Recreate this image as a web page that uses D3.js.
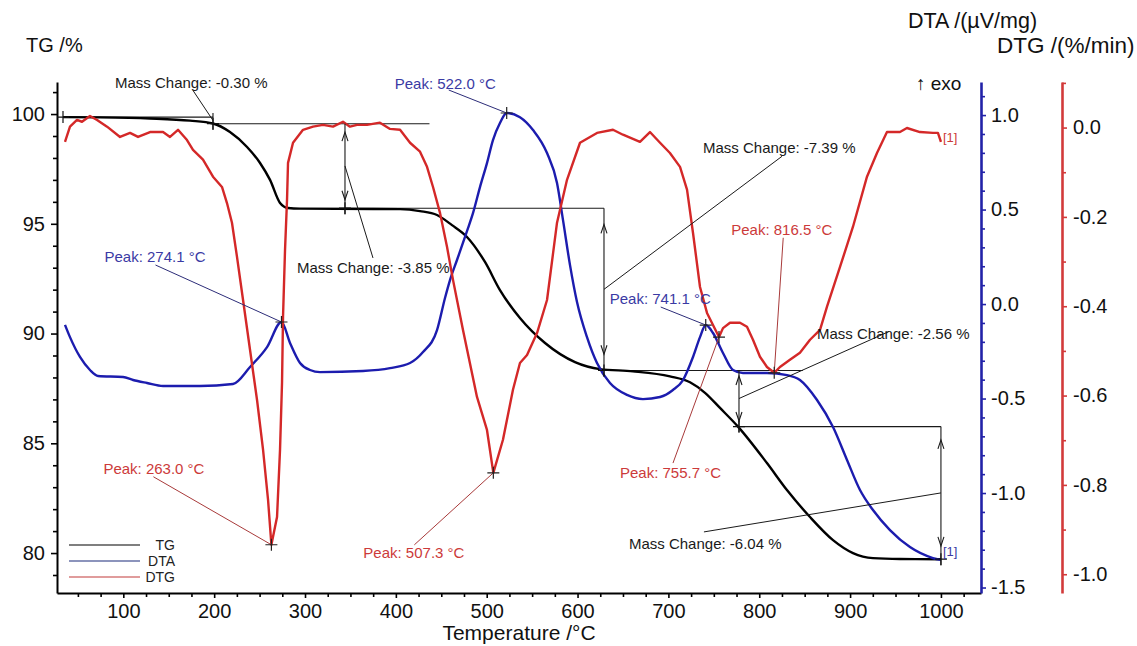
<!DOCTYPE html>
<html>
<head>
<meta charset="utf-8">
<script src="https://cdn.jsdelivr.net/npm/d3@7"></script>
<style>
  body { margin: 0; background: #fff; }
  svg text { font-family: "Liberation Sans", Arial, sans-serif; }
</style>
</head>
<body>
<svg id="chart" width="1137" height="646"></svg>
<script>
// ---- Thermal analysis readings ----
const tgTemp = [33.6, 74.4, 129.4, 173.4, 198.7, 217.4, 236.2, 250.5, 261.5, 272.5, 281.3, 294.5, 404.6, 426.6, 445.3, 461.8, 478.3, 498.1, 514.6, 536.6, 564.2, 597.2, 624.7, 661.0, 701.7, 723.8, 740.3, 756.8, 776.6, 808.5, 830.5, 855.9, 881.2, 903.2, 925.2, 954.9, 1000];
const tgMass = [99.86, 99.85, 99.80, 99.70, 99.57, 99.18, 98.50, 97.77, 97.00, 95.95, 95.72, 95.69, 95.67, 95.58, 95.40, 94.94, 94.40, 93.26, 91.98, 90.71, 89.57, 88.70, 88.38, 88.28, 88.05, 87.78, 87.30, 86.61, 85.76, 84.10, 82.87, 81.64, 80.59, 80.00, 79.77, 79.73, 79.72];

const dtaTemp = [35.8, 41.3, 52.3, 63.3, 72.2, 99.7, 110.7, 126.1, 143.7, 184.4, 220.7, 239.5, 258.2, 274.1, 283.5, 294.5, 305.5, 316.5, 363.8, 393.6, 415.6, 429.9, 445.3, 454.1, 459.6, 467.3, 478.3, 484.9, 492.6, 500.3, 506.9, 514.6, 522.0, 536.6, 551.0, 566.4, 577.4, 584.0, 591.7, 599.4, 610.4, 621.4, 635.7, 654.4, 672.0, 690.8, 705.0, 716.1, 727.1, 734.8, 741.1, 749.1, 760.1, 771.1, 782.1, 808.5, 830.5, 844.8, 863.6, 881.2, 896.6, 910.9, 925.2, 943.9, 965.9, 991.2, 1000];
const dtaSignal = [-0.110, -0.175, -0.280, -0.349, -0.381, -0.386, -0.402, -0.418, -0.434, -0.434, -0.423, -0.333, -0.228, -0.095, -0.206, -0.312, -0.349, -0.360, -0.354, -0.339, -0.312, -0.254, -0.138, 0.032, 0.127, 0.233, 0.386, 0.481, 0.619, 0.746, 0.868, 0.958, 1.011, 0.989, 0.921, 0.799, 0.640, 0.444, 0.206, 0.011, -0.175, -0.312, -0.418, -0.481, -0.503, -0.492, -0.455, -0.402, -0.280, -0.175, -0.111, -0.153, -0.259, -0.349, -0.365, -0.365, -0.376, -0.402, -0.508, -0.651, -0.825, -0.984, -1.090, -1.196, -1.286, -1.344, -1.354];

const dtgTemp = [35.8, 41.3, 49.0, 54.5, 63.3, 71.1, 82.1, 96.4, 107.4, 116.2, 129.4, 143.7, 151.4, 160.2, 170.1, 176.7, 187.7, 198.7, 208.6, 214.1, 219.6, 225.1, 231.8, 239.5, 247.2, 253.8, 259.3, 263.0, 269.2, 272.5, 274.7, 275.8, 278.0, 280.2, 281.3, 286.8, 297.8, 308.8, 319.8, 330.8, 341.8, 349.5, 357.2, 368.2, 382.5, 393.6, 404.6, 415.6, 426.6, 434.3, 440.9, 448.6, 456.3, 462.9, 473.9, 489.3, 500.3, 507.3, 517.9, 528.9, 536.6, 544.4, 555.4, 566.4, 577.4, 588.4, 602.7, 621.4, 639.0, 650.0, 668.7, 679.7, 690.8, 701.7, 712.8, 720.5, 727.1, 734.8, 742.5, 755.7, 760.1, 767.8, 778.8, 786.5, 793.1, 800.8, 808.5, 816.5, 822.8, 833.8, 844.8, 855.9, 866.9, 874.6, 888.9, 903.2, 918.6, 929.6, 940.6, 954.9, 962.6, 976.9, 991.2, 996.7, 1000];
const dtgRate = [-0.032, 0.002, 0.017, 0.013, 0.026, 0.017, 0.002, -0.021, -0.012, -0.021, -0.010, -0.010, -0.021, -0.005, -0.028, -0.050, -0.072, -0.110, -0.133, -0.169, -0.213, -0.289, -0.386, -0.498, -0.610, -0.721, -0.833, -0.934, -0.872, -0.721, -0.571, -0.424, -0.274, -0.162, -0.079, -0.034, -0.005, 0.002, 0.006, 0.002, 0.013, 0.002, 0.006, 0.006, 0.011, -0.003, -0.005, -0.034, -0.054, -0.088, -0.133, -0.191, -0.267, -0.341, -0.453, -0.603, -0.677, -0.773, -0.699, -0.587, -0.527, -0.509, -0.460, -0.386, -0.213, -0.117, -0.034, -0.012, -0.005, -0.016, -0.032, -0.010, -0.034, -0.057, -0.088, -0.139, -0.236, -0.357, -0.415, -0.469, -0.449, -0.437, -0.437, -0.446, -0.475, -0.513, -0.536, -0.549, -0.536, -0.520, -0.504, -0.475, -0.453, -0.401, -0.312, -0.222, -0.110, -0.057, -0.010, -0.010, -0.001, -0.010, -0.012, -0.012, -0.032];

// Evaluated peaks and mass-change steps
const dtaPeaks = [274.1, 522.0, 741.1];
const dtgPeaks = [263.0, 507.3, 755.7, 816.5];
const massChanges = [-0.30, -3.85, -7.39, -2.56, -6.04];
const stepTemps = [198.7, 344.0, 629.1, 777.7, 1000];

// Axis ticks
const tempTicks = [100, 200, 300, 400, 500, 600, 700, 800, 900, 1000];
const tgTicks = [80, 85, 90, 95, 100];
const dtaTicks = [-1.5, -1.0, -0.5, 0.0, 0.5, 1.0];
const dtgTicks = [-1.0, -0.8, -0.6, -0.4, -0.2, 0.0];

// ---- Layout ----
const C = {
  tg: "#000000",
  dta: "#1c1cae",
  dtg: "#d42828",
  dtaAxis: "#2222a8",
  dtgAxis: "#d23a3a",
  dtaText: "#3a3aa4",
  dtgText: "#cc3a3a",
  dtaLead: "#2c2c78",
  dtgLead: "#a83a3a",
  note: "#1a1a1a"
};
const plot = { left: 57, right: 981, top: 82, bottom: 593 };

const svg = d3.select("#chart");
svg.append("rect").attr("width", 1137).attr("height", 646).attr("fill", "#fff");

const x = d3.scaleLinear().domain([27.0, 1044.1]).range([plot.left, plot.right]);
const yTG = d3.scaleLinear().domain([78.18, 101.46]).range([plot.bottom, plot.top]);
const yDTA = d3.scaleLinear().domain([-1.529, 1.175]).range([plot.bottom, plot.top]);
const yDTG = d3.scaleLinear().domain([-1.042, 0.102]).range([plot.bottom, plot.top]);

const fmt1 = d => (Math.round(d * 10) / 10).toFixed(1).replace("-0.0", "0.0");
const tickFont = 20;

function styleAxis(g, color, width) {
  g.attr("font-size", tickFont).attr("font-family", '"Liberation Sans", Arial, sans-serif');
  g.select(".domain").attr("stroke", color).attr("stroke-width", width);
  g.selectAll(".tick line").attr("stroke", color).attr("stroke-width", 1.6);
  g.selectAll(".tick text").attr("fill", "#111");
}

// Left TG axis
const gL = svg.append("g").attr("transform", `translate(${plot.left},0)`);
gL.call(d3.axisLeft(yTG).tickValues(tgTicks).tickSize(6).tickSizeOuter(0).tickPadding(6).tickFormat(d3.format("d")));
styleAxis(gL, "#000", 2);
const gLm = svg.append("g").attr("transform", `translate(${plot.left},0)`);
gLm.call(d3.axisLeft(yTG).tickValues(d3.range(79, 102).filter(v => v % 5 !== 0)).tickSize(4).tickSizeOuter(0).tickFormat(""));
gLm.select(".domain").remove();
gLm.selectAll(".tick line").attr("stroke", "#000").attr("stroke-width", 1.6);

// Bottom temperature axis
const gB = svg.append("g").attr("transform", `translate(0,${plot.bottom})`);
gB.call(d3.axisBottom(x).tickValues(tempTicks).tickSize(5).tickSizeOuter(0).tickPadding(6).tickFormat(d3.format("d")));
styleAxis(gB, "#000", 2);
const gBm = svg.append("g").attr("transform", `translate(0,${plot.bottom})`);
gBm.call(d3.axisBottom(x).tickValues(d3.range(50, 1026, 25).filter(v => v % 100 !== 0)).tickSize(4).tickSizeOuter(0).tickFormat(""));
gBm.select(".domain").remove();
gBm.selectAll(".tick line").attr("stroke", "#000").attr("stroke-width", 1.6);

// Right DTA axis
const gR1 = svg.append("g").attr("transform", `translate(${plot.right},0)`);
gR1.call(d3.axisRight(yDTA).tickValues(dtaTicks).tickSize(5).tickSizeOuter(0).tickPadding(5).tickFormat(fmt1));
styleAxis(gR1, C.dtaAxis, 2.6);
const gR1m = svg.append("g").attr("transform", `translate(${plot.right},0)`);
gR1m.call(d3.axisRight(yDTA).tickValues(d3.range(-14, 12).filter(v => v % 5 !== 0).map(v => v / 10)).tickSize(4).tickSizeOuter(0).tickFormat(""));
gR1m.select(".domain").remove();
gR1m.selectAll(".tick line").attr("stroke", C.dtaAxis).attr("stroke-width", 1.6);

// Right DTG axis
const dtgAxisX = 1062;
const gR2 = svg.append("g").attr("transform", `translate(${dtgAxisX},0)`);
gR2.call(d3.axisRight(yDTG).tickValues(dtgTicks).tickSize(5).tickSizeOuter(0).tickPadding(6).tickFormat(fmt1));
styleAxis(gR2, C.dtgAxis, 2.6);
const gR2m = svg.append("g").attr("transform", `translate(${dtgAxisX},0)`);
gR2m.call(d3.axisRight(yDTG).tickValues(d3.range(-9, 2, 2).map(v => v / 10)).tickSize(4).tickSizeOuter(0).tickFormat(""));
gR2m.select(".domain").remove();
gR2m.selectAll(".tick line").attr("stroke", C.dtgAxis).attr("stroke-width", 1.6);

// Axis titles
const title = (t, xx, yy, size, anchor) => svg.append("text").text(t).attr("x", xx).attr("y", yy)
  .attr("font-size", size).attr("fill", "#111").attr("text-anchor", anchor || "start");
title("TG /%", 26, 52, 20);
title("DTA /(µV/mg)", 908, 28, 21.5);
title("DTG /(%/min)", 997, 53, 22.5);
title("↑ exo", 916, 90, 19);
title("Temperature /°C", (plot.left + plot.right) / 2, 640, 21, "middle");

// ---- Helpers ----
const valueAt = (ts, vs, t) => {
  const i = d3.bisectLeft(ts, t);
  if (i < ts.length && ts[i] === t) return vs[i];
  const i0 = Math.max(0, i - 1), i1 = Math.min(ts.length - 1, i);
  if (i0 === i1) return vs[i0];
  return vs[i0] + (vs[i1] - vs[i0]) * (t - ts[i0]) / (ts[i1] - ts[i0]);
};
const cross = (g, cx, cy, color) => g.append("path")
  .attr("d", `M${cx - 6},${cy}H${cx + 6}M${cx},${cy - 6}V${cy + 6}`)
  .attr("stroke", color || "#111").attr("stroke-width", 1.2).attr("fill", "none");
const seg = (g, x1, y1, x2, y2, color, w) => g.append("line")
  .attr("x1", x1).attr("y1", y1).attr("x2", x2).attr("y2", y2)
  .attr("stroke", color).attr("stroke-width", w || 1);

const noteFont = 15;

// ---- Mass-change step construction (drawn beneath curves) ----
const gSteps = svg.append("g");
const levels = [tgMass[0]];
massChanges.forEach(d => levels.push(Math.round((levels[levels.length - 1] + d) * 100) / 100));
const levelStarts = [tgTemp[0], stepTemps[0], stepTemps[1], stepTemps[2], stepTemps[3]];
const levelEnds = [stepTemps[0], 437, stepTemps[2], 848, stepTemps[4]];
for (let i = 0; i < 5; i++) {
  seg(gSteps, x(levelStarts[i]), yTG(levels[i]), x(levelEnds[i]), yTG(levels[i]), C.note, 1.1);
}

// ---- Curves ----
const lineOf = (ts, vs, ys, curve) => d3.line().x(d => x(d[0])).y(d => ys(d[1])).curve(curve)(d3.zip(ts, vs));
svg.append("path").attr("d", lineOf(tgTemp, tgMass, yTG, d3.curveMonotoneX))
  .attr("fill", "none").attr("stroke", C.tg).attr("stroke-width", 2.4).attr("stroke-linejoin", "round");
svg.append("path").attr("d", lineOf(dtaTemp, dtaSignal, yDTA, d3.curveMonotoneX))
  .attr("fill", "none").attr("stroke", C.dta).attr("stroke-width", 2.4).attr("stroke-linejoin", "round");
svg.append("path").attr("d", lineOf(dtgTemp, dtgRate, yDTG, d3.curveLinear))
  .attr("fill", "none").attr("stroke", C.dtg).attr("stroke-width", 2.4).attr("stroke-linejoin", "round");

// ---- Step arrows, markers and labels ----
const gNotes = svg.append("g");
const massLabelLayout = [
  { label: [-98, -38], lead: [-20, -30] },
  { label: [-48, 102], lead: [28, 92] },
  { label: [99, -142], lead: [178, -133] },
  { label: [78, -65], lead: [150, -67] },
  { label: [-312, 51], lead: [-237, 39] }
];
cross(gNotes, x(tgTemp[0]), yTG(levels[0]));
massChanges.forEach((d, i) => {
  const xa = x(stepTemps[i]);
  const yU = yTG(levels[i]), yLo = yTG(levels[i + 1]);
  const span = yLo - yU;
  seg(gNotes, xa, yU - (span < 20 ? 4 : 0), xa, yLo + 6, C.note, 1.1);
  if (span >= 20) {
    const inset = 0.1 * span;
    const tu = yU + inset, td = yLo - inset;
    gNotes.append("path").attr("d", `M${xa - 3},${tu + 9}L${xa},${tu}L${xa + 3},${tu + 9}`)
      .attr("fill", "none").attr("stroke", C.note).attr("stroke-width", 1.1);
    gNotes.append("path").attr("d", `M${xa - 3},${td - 9}L${xa},${td}L${xa + 3},${td - 9}`)
      .attr("fill", "none").attr("stroke", C.note).attr("stroke-width", 1.1);
  }
  cross(gNotes, xa, yLo);
  const my = (yU + yLo) / 2;
  const L = massLabelLayout[i];
  seg(gNotes, xa, my, xa + L.lead[0], my + L.lead[1], C.note, 1);
  gNotes.append("text").text(`Mass Change: ${d.toFixed(2)} %`)
    .attr("x", xa + L.label[0]).attr("y", my + L.label[1]).attr("dy", "0.35em")
    .attr("font-size", noteFont).attr("fill", C.note);
});

// Peak labels
const dtaPeakLayout = [
  { label: [-177, -65], lead: [-126, -57] },
  { label: [-112, -29], lead: [-58, -23] },
  { label: [-96, -26], lead: [-45, -18] }
];
const dtgPeakLayout = [
  { label: [-168, -76], lead: [-118, -68] },
  { label: [-130, 80], lead: [-79, 72] },
  { label: [-99, 136], lead: [-46, 126] },
  { label: [-43, -143], lead: [9, -135] }
];
function peakNote(t, v, ys, L, textColor, leadColor) {
  const px = x(t), py = ys(v);
  seg(gNotes, px, py, px + L.lead[0], py + L.lead[1], leadColor, 1);
  cross(gNotes, px, py, "#222");
  gNotes.append("text").text(`Peak: ${t.toFixed(1)} °C`)
    .attr("x", px + L.label[0]).attr("y", py + L.label[1]).attr("dy", "0.35em")
    .attr("font-size", noteFont).attr("fill", textColor);
}
dtaPeaks.forEach((t, i) => peakNote(t, valueAt(dtaTemp, dtaSignal, t), yDTA, dtaPeakLayout[i], C.dtaText, C.dtaLead));
dtgPeaks.forEach((t, i) => peakNote(t, valueAt(dtgTemp, dtgRate, t), yDTG, dtgPeakLayout[i], C.dtgText, C.dtgLead));

// End-of-curve markers
const endT = dtaTemp[dtaTemp.length - 1];
gNotes.append("text").text("[1]").attr("x", x(endT) + 2).attr("y", yDTA(dtaSignal[dtaSignal.length - 1]) - 4)
  .attr("font-size", 13).attr("fill", C.dtaText);
gNotes.append("text").text("[1]").attr("x", x(endT) + 2).attr("y", yDTG(dtgRate[dtgRate.length - 1]))
  .attr("font-size", 13).attr("fill", C.dtgText);

// ---- Legend ----
const legend = svg.append("g");
[["TG", C.tg], ["DTA", "#1a2a7a"], ["DTG", "#c23a3a"]].forEach((d, i) => {
  const ly = 545 + i * 16;
  seg(legend, 69, ly, 140, ly, d[1], 1.2);
  legend.append("text").text(d[0]).attr("x", 175).attr("y", ly).attr("dy", "0.35em")
    .attr("text-anchor", "end").attr("font-size", 14).attr("fill", "#222");
});
</script>
</body>
</html>
